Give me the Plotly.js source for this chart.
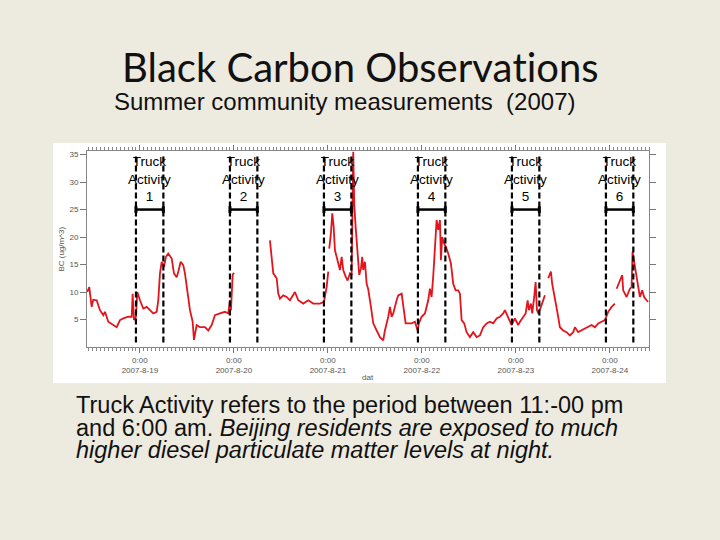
<!DOCTYPE html>
<html>
<head>
<meta charset="utf-8">
<script src="https://cdn.plot.ly/plotly-3.0.1.min.js"></script>
<style>html,body{margin:0;padding:0;background:#EDEAE0;}#chart{width:720px;height:540px;}</style>
</head>
<body>
<div id="chart"></div>
<script>
// Hours measured from 2007-08-19 0:00 (null = gap in record)
const hoursFrom0819 = [
 -13.43,-12.92,-12.31,-11.90,-11.03,-10.19,-9.34,-8.91,-8.07,-6.79,-5.92,-5.08,-4.24,-2.96,-2.09,-1.84,-1.51,-1.00,-0.66,
 0.03,0.87,1.74,2.58,3.42,4.29,4.70,5.13,5.57,6.15,6.66,7.25,8.12,8.71,9.40,9.80,10.42,11.08,11.51,12.10,12.79,13.48,13.81,
 14.50,15.34,16.62,17.46,18.33,19.17,20.45,21.73,22.57,23.00,23.26,23.69,24.02,
 28.0,
 33.21,33.65,34.06,34.93,35.33,35.77,36.61,37.48,38.32,39.60,40.44,41.72,42.99,44.27,45.98,47.00,47.69,48.10,
 48.22,
 48.35,48.79,49.12,49.48,49.81,50.24,50.65,51.09,51.52,51.93,52.54,53.05,53.64,54.07,54.48,54.74,55.09,55.43,55.76,56.01,
 56.45,56.78,57.03,57.47,57.90,58.31,59.00,59.59,60.46,61.30,62.14,62.57,63.42,63.85,64.28,64.69,65.56,65.97,66.84,67.25,
 67.86,68.52,69.39,70.23,70.92,71.25,71.94,72.79,73.63,74.06,74.49,74.90,75.34,75.77,76.18,76.62,76.87,77.20,77.71,78.15,
 78.73,79.42,80.01,80.62,81.29,81.72,82.16,82.82,83.43,84.27,85.12,85.99,86.83,87.67,88.54,89.38,90.22,91.09,91.93,92.78,
 93.21,94.05,94.92,95.74,96.61,97.05,97.88,98.50,99.01,99.34,99.85,100.18,100.69,101.05,101.39,101.72,102.41,102.99,103.42,
 103.8,
 104.26,104.95,105.28,105.97,106.66,107.25,108.09,108.96,109.80,110.65,111.08,111.92,112.79,113.63,114.48,115.34,116.19,
 117.03,117.90,118.74,119.58,120.45,121.29,
 121.5,
 121.73,122.57,123.16,123.41,124.28,125.12,125.55,125.80,126.38,126.82,127.23,127.67,128.25,128.76,129.37,129.78
];
const bcValues = [
 10.0,10.9,7.3,8.6,8.5,6.7,5.8,6.4,4.6,4.0,3.6,4.9,5.2,5.5,5.5,9.7,4.9,5.5,10.0,
 8.5,7.0,7.3,6.7,6.1,6.4,8.5,13.4,15.5,14.6,16.4,17.0,16.1,13.4,12.7,13.7,15.5,14.9,13.4,10.3,6.7,4.6,1.3,
 4.0,3.6,3.6,3.0,4.0,5.8,6.1,6.4,6.1,8.5,6.7,13.1,13.5,
 null,
 19.4,16.1,13.4,12.5,9.7,8.8,9.4,9.1,8.5,10.0,8.5,7.9,8.5,7.9,7.9,8.2,10.9,13.7,
 null,
 17.9,20.7,24.3,21.9,17.6,16.4,15.2,14.0,16.4,14.0,12.8,12.1,13.4,13.1,35.5,26.0,21.9,18.2,14.0,13.1,
 14.3,16.4,14.0,15.5,11.5,10.5,7.3,4.3,3.0,1.8,1.2,3.0,5.5,7.3,5.5,6.1,8.5,9.4,9.7,7.3,
 4.3,4.3,4.3,4.6,3.0,4.3,5.5,6.1,8.5,10.6,9.1,12.8,17.6,23.1,21.3,23.1,15.8,20.0,18.8,18.2,
 17.0,15.2,11.5,10.3,10.3,9.7,4.9,4.3,2.7,1.8,2.7,1.8,2.1,3.6,4.3,4.6,4.3,5.2,5.5,6.1,
 6.7,5.5,4.0,5.2,4.0,4.6,5.5,6.1,8.5,6.7,7.9,6.1,9.1,11.8,6.7,6.1,7.3,8.5,9.4,
 null,
 12.5,13.7,11.5,9.1,6.1,3.6,3.0,2.7,2.1,2.7,3.6,2.7,3.0,3.3,3.6,4.0,3.6,
 4.3,4.6,4.9,6.4,7.3,7.9,
 null,
 10.6,12.1,13.1,10.3,9.1,10.6,10.9,17.3,14.6,12.8,10.9,9.1,10.3,9.1,8.5,8.2
];

const dayTicks = ['2007-08-19','2007-08-20','2007-08-21','2007-08-22','2007-08-23','2007-08-24'];
const dayLabels = ['0:00<br>2007-8-19','0:00<br>2007-8-20','0:00<br>2007-8-21','0:00<br>2007-8-22','0:00<br>2007-8-23','0:00<br>2007-8-24'];
const yTicks = [5,10,15,20,25,30,35];

const truckLabels = ['1','2','3','4','5','6'];
const truckStart = ['2007-08-18 23:00','2007-08-19 23:00','2007-08-20 23:00','2007-08-21 23:00','2007-08-22 23:00','2007-08-23 23:00'];
const truckEnd   = ['2007-08-19 06:00','2007-08-20 06:00','2007-08-21 06:00','2007-08-22 06:00','2007-08-23 06:00','2007-08-24 06:00'];
const truckMid   = ['2007-08-19 02:30','2007-08-20 02:30','2007-08-21 02:30','2007-08-22 02:30','2007-08-23 02:30','2007-08-24 02:30'];

function hrsToDate(h){
  if (h === null) return null;
  const ms = Date.UTC(2007,7,19) + h*3600000;
  return new Date(ms).toISOString().replace('T',' ').slice(0,19);
}
const xDates = hoursFrom0819.map(hrsToDate);

const trace = {
  x: xDates, y: bcValues, type: 'scatter', mode: 'lines',
  line: {color: '#E3141C', width: 1.8}, connectgaps: false, hoverinfo: 'skip'
};

const shapes = [
  {type:'rect', xref:'paper', yref:'paper', x0:-0.0605, x1:1.0302, y0:-0.1837, y1:1.0408,
   fillcolor:'#ffffff', line:{width:0}, layer:'below'}
];
const annotations = [];
const lbl = 'Liberation Sans, Arial, sans-serif';
truckStart.forEach((s,i)=>{
  const e = truckEnd[i];
  [s,e].forEach(t=>shapes.push({type:'line', xref:'x', yref:'y', x0:t, x1:t, y0:0.8, y1:35,
     line:{color:'#000', width:2.2, dash:'6px,3px'}}));
  shapes.push({type:'line', xref:'x', yref:'y', x0:s, x1:e, y0:25, y1:25, line:{color:'#000', width:2.5}});
  [s,e].forEach(t=>shapes.push({type:'line', xref:'x', yref:'y', x0:t, x1:t, y0:24.4, y1:25.6,
     line:{color:'#000', width:3}}));
  annotations.push({xref:'x', yref:'y', x: truckMid[i], y: 30.6, showarrow:false,
     text:'Truck<br>Activity<br>'+truckLabels[i], font:{family:lbl, size:13.5, color:'#000'}, align:'center'});
});

// Slide texts
annotations.push({xref:'paper', yref:'paper', x:0.4858, y:1.4286, xanchor:'center', yanchor:'middle', showarrow:false,
  text:'Black Carbon Observa<span style="font-family:Lato">t</span>ions', font:{family:'Lato, Noto Sans, sans-serif', size:40, color:'#111'}});
annotations.push({xref:'paper', yref:'paper', x:0.0445, y:1.255, xanchor:'left', yanchor:'middle', showarrow:false,
  text:'Summer community measurements  (2007)', font:{family:lbl, size:24, color:'#111'}});
annotations.push({xref:'paper', yref:'paper', x:-0.0231, y:-0.296, xanchor:'left', yanchor:'middle', showarrow:false,
  text:'Truck Activity refers to the period between 11:-00 pm', font:{family:lbl, size:23.5, color:'#111'}});
annotations.push({xref:'paper', yref:'paper', x:-0.0231, y:-0.413, xanchor:'left', yanchor:'middle', showarrow:false,
  text:'and 6:00 am. <i>Beijing residents are exposed to much</i>', font:{family:lbl, size:23.5, color:'#111'}});
annotations.push({xref:'paper', yref:'paper', x:-0.0231, y:-0.526, xanchor:'left', yanchor:'middle', showarrow:false,
  text:'<i>higher diesel particulate matter levels at night.</i>', font:{family:lbl, size:23.5, color:'#111'}});
// axis titles
annotations.push({xref:'paper', yref:'paper', x:-0.047, y:0.5, xanchor:'center', yanchor:'middle', showarrow:false,
  textangle:-90, text:'BC (ug/m^3)', font:{family:lbl, size:8, color:'#555'}});
annotations.push({xref:'paper', yref:'paper', x:0.5, y:-0.158, xanchor:'center', yanchor:'middle', showarrow:false,
  text:'dat', font:{family:lbl, size:8, color:'#555'}});

const layout = {
  width:720, height:540,
  margin:{l:87, r:71, t:151, b:193, pad:0},
  paper_bgcolor:'#EDEAE0', plot_bgcolor:'#ffffff',
  showlegend:false,
  xaxis:{
    type:'date', range:['2007-08-18 10:30','2007-08-24 10:00'],
    tickmode:'array', tickvals: dayTicks, ticktext: dayLabels,
    ticks:'outside', ticklen:5, tickwidth:1, tickcolor:'#777',
    showline:true, linecolor:'#888', linewidth:1, mirror:'allticks',
    showgrid:false, zeroline:false,
    tickfont:{family:lbl, size:8, color:'#555'},
    minor:{dtick:3600000, ticks:'outside', ticklen:3, tickcolor:'#888', tickwidth:1, showgrid:false}
  },
  yaxis:{
    range:[0,35.65], tickvals: yTicks, ticktext: yTicks.map(String),
    ticks:'outside', ticklen:6, tickcolor:'#777', tickwidth:1,
    showline:true, linecolor:'#888', linewidth:1, mirror:'ticks',
    showgrid:false, zeroline:false,
    tickfont:{family:lbl, size:8, color:'#555'}
  },
  shapes: shapes,
  annotations: annotations
};
Plotly.newPlot('chart', [trace], layout, {staticPlot:true, displayModeBar:false});
</script>
</body>
</html>
